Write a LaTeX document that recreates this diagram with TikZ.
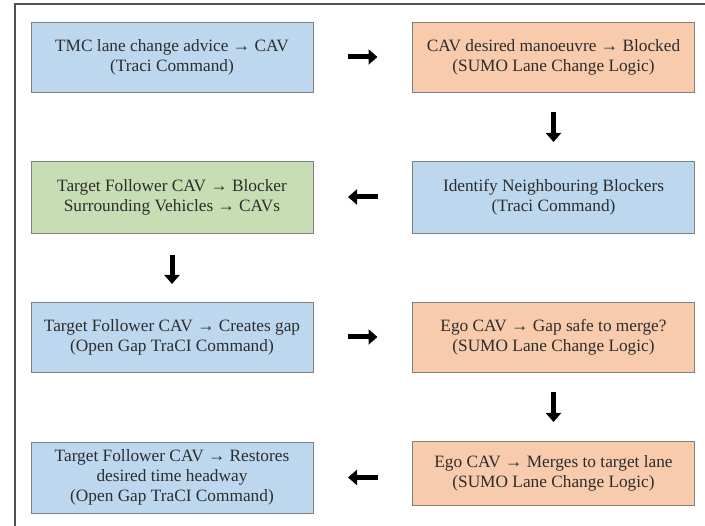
\documentclass[tikz,border=0pt]{standalone}
\usepackage{fontspec}
\newfontfamily\serifface{Liberation Serif}
\newcommand*{\boxfont}{\serifface\fontsize{17.3}{20}\selectfont}
\definecolor{B}{RGB}{189,215,238}
\definecolor{P}{RGB}{248,203,173}
\definecolor{G}{RGB}{199,222,181}
\definecolor{F}{RGB}{128,128,128}
\definecolor{K}{RGB}{45,45,45}
\definecolor{R}{RGB}{80,80,80}
\usepackage{tikz}
\usetikzlibrary{arrows.meta}
\usetikzlibrary{positioning}
\tikzstyle{base}=[x=1pt, y=1pt, inner sep=0pt, outer sep=0pt]
\tikzstyle{stepbox}=[draw=F, line width=0.9pt, text=K, align=center, minimum width=282pt, minimum height=70pt, font=\boxfont]
\tikzstyle{flow}=[black, line width=5pt, -{Triangle[length=9pt, width=15pt]}]

\begin{document}
\begin{tikzpicture}[base]
    \path [use as bounding box] (0,0) rectangle (705,526);
    \begin{scope}
        \clip (0,0) rectangle (705,526);
        \draw [R, line width=1.5pt] (15,-20) rectangle (730,522);
    \end{scope}
        % left column
        \node [stepbox, fill=B] (advice) at (172,469) {TMC lane change advice → CAV\\(Traci Command)};
        \node [stepbox, fill=G, minimum height=72pt] (blocker) at (172,329) {Target Follower CAV → Blocker\\Surrounding Vehicles → CAVs};
        \node [stepbox, fill=B] (creategap) at (172,189) {Target Follower CAV → Creates gap\\(Open Gap TraCI Command)};
        \node [stepbox, fill=B, minimum height=71pt] (restore) at (172,48.5) {Target Follower CAV → Restores\\desired time headway\\(Open Gap TraCI Command)};
        % right column
        \node [stepbox, fill=P] (blocked) at (553.5,469) {CAV desired manoeuvre → Blocked\\(SUMO Lane Change Logic)};
        \node [stepbox, fill=B, minimum height=72pt] (neighbours) at (553.5,329) {Identify Neighbouring Blockers\\(Traci Command)};
        \node [stepbox, fill=P] (gapsafe) at (553.5,189) {Ego CAV → Gap safe to merge?\\(SUMO Lane Change Logic)};
        \node [stepbox, fill=P, minimum height=64pt] (merge) at (553.5,53) {Ego CAV → Merges to target lane\\(SUMO Lane Change Logic)};
        % arrows
        \draw [flow] ([xshift=35pt]advice.east) -- ([xshift=-35pt]blocked.west);
        \draw [flow, shorten <=20pt, shorten >=19pt] (blocked) -- (neighbours);
        \draw [flow] ([xshift=-35pt]neighbours.west) -- ([xshift=35pt]blocker.east);
        \draw [flow, shorten <=22pt, shorten >=18pt] (blocker) -- (creategap);
        \draw [flow] ([xshift=35pt]creategap.east) -- ([xshift=-35pt]gapsafe.west);
        \draw [flow, shorten <=20pt, shorten >=19pt] (gapsafe) -- (merge);
        \draw [flow] ([xshift=-35pt]merge.west |- restore.west) -- ([xshift=35pt]restore.east);
    \end{tikzpicture}
\end{document}
